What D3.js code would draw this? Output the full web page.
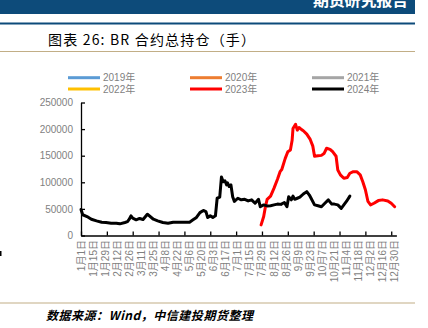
<!DOCTYPE html>
<html><head><meta charset="utf-8">
<script src="https://cdn.jsdelivr.net/npm/d3@7"></script>
<style>
html,body{margin:0;padding:0;background:#fff;}
svg{display:block;}
</style></head>
<body>
<svg id="c" width="428" height="328"></svg>
<script>
// ---- data ----
const legendYears = ["2019年","2020年","2021年","2022年","2023年","2024年"];
const legendColors = ["#5B9BD5","#ED7D31","#A5A5A5","#FFC000","#FF0000","#000000"];

const dates2019 = [], values2019 = [];
const dates2020 = [], values2020 = [];
const dates2021 = [], values2021 = [];
const dates2022 = [], values2022 = [];

const dates2023 = ["07-28","07-31","08-02","08-04","08-08","08-12","08-16","08-19","08-21","08-25","08-28","08-31","09-02","09-03","09-06","09-08","09-10","09-13","09-15","09-19","09-23","09-26","09-28","10-02","10-06","10-09","10-12","10-16","10-19","10-23","10-25","10-28","11-01","11-05","11-08","11-12","11-16","11-20","11-23","11-26","11-29","12-02","12-06","12-11","12-16","12-22","12-26","12-30"];
const values2023 = [20000,35600,54000,68000,74000,89000,105600,120000,124000,145000,157500,160600,179000,201000,209000,198000,203000,199000,197000,190600,180600,168000,149000,150000,150600,154000,164000,162000,157500,149000,123000,114000,107500,109000,117000,120000,120000,114000,101000,86000,64000,57500,60600,65600,67000,65000,60600,54000];

const dates2024 = ["01-01","01-03","01-08","01-13","01-19","01-25","01-30","02-05","02-11","02-15","02-21","02-24","02-26","02-28","03-01","03-05","03-09","03-13","03-18","03-25","03-30","04-05","04-11","04-17","04-27","05-06","05-10","05-14","05-18","05-22","05-25","05-27","05-30","06-02","06-05","06-07","06-10","06-12","06-14","06-16","06-18","06-19","06-21","06-23","06-25","06-27","07-01","07-05","07-09","07-13","07-17","07-21","07-25","07-27","07-31","08-04","08-08","08-12","08-16","08-20","08-24","08-27","08-29","09-01","09-03","09-05","09-08","09-11","09-15","09-19","09-22","09-24","09-28","10-02","10-06","10-10","10-14","10-18","10-21","10-25","10-29","11-01","11-04","11-08"];
const values2024 = [49000,39000,35600,30600,27500,25000,24400,23000,23000,21900,24400,26000,30600,37000,32500,29400,32000,30000,40000,30600,27500,24400,23000,25000,25000,25000,29400,34000,43000,47000,45000,33750,36900,34000,37000,70000,72000,110000,101000,103000,95000,99000,92000,95000,73000,64000,70000,67000,68000,65000,67000,60600,68000,54000,57500,55600,56000,57500,59000,58500,62000,54000,73000,67000,74000,68000,70000,72000,78000,82500,76000,70000,57500,56000,54000,60600,67000,59000,59000,57500,51000,57500,64000,74000];

const yTicks = [0,50000,100000,150000,200000,250000];
const xLabels = ["1月1日","1月15日","1月29日","2月12日","2月26日","3月11日","3月25日","4月8日","4月22日","5月6日","5月20日","6月3日","6月17日","7月1日","7月15日","7月29日","8月12日","8月26日","9月9日","9月23日","10月7日","10月21日","11月4日","11月18日","12月2日","12月16日","12月30日"];

// ---- helpers ----
const base = new Date(2024,0,1);
function dayIdx(md){ const [m,d]=md.split("-").map(Number); return d3.timeDay.count(base, new Date(2024,m-1,d)); }
function labelIdx(l){ const m=l.match(/(\d+)月(\d+)日/); return d3.timeDay.count(base, new Date(2024,+m[1]-1,+m[2])); }

const svg = d3.select("#c");
const grayTxt = "#7f7f7f";
const latinFont = "'Liberation Sans', Arial, 'Noto Sans CJK SC', sans-serif";

// header
svg.append("rect").attr("x",0).attr("y",0).attr("width",415).attr("height",14).attr("fill","#0D4B7A");
svg.append("text").attr("x",313).attr("y",6).attr("fill","#fff")
  .attr("font-family","'Noto Sans CJK SC'").attr("font-size",16).attr("font-weight","bold")
  .attr("textLength",95).attr("lengthAdjust","spacing").text("期货研究报告");
svg.append("rect").attr("x",0).attr("y",22.5).attr("width",415).attr("height",2).attr("fill","#0D4B7A");
svg.append("rect").attr("x",0).attr("y",51).attr("width",415).attr("height",1).attr("fill","#C2AE86");
svg.append("text").attr("x",48).attr("y",44.5).attr("fill","#000")
  .attr("font-family","'Noto Sans CJK SC'").attr("font-size",14)
  .attr("textLength",207).attr("lengthAdjust","spacing").text("图表 26: BR 合约总持仓（手）");

// footer
svg.append("rect").attr("x",0).attr("y",302.5).attr("width",415).attr("height",1).attr("fill","#C2AE86");
svg.append("text").attr("x",46).attr("y",319.5).attr("fill","#000")
  .attr("font-family","'Noto Sans CJK SC'").attr("font-size",12).attr("font-style","italic").attr("font-weight","bold")
  .attr("textLength",207).attr("lengthAdjust","spacing").text("数据来源：Wind，中信建投期货整理");
svg.append("rect").attr("x",0).attr("y",251).attr("width",1.5).attr("height",5).attr("fill","#000");

// scales
const x = d3.scaleLinear().domain([0,366]).range([81,396.4]);
const y = d3.scaleLinear().domain([0,250000]).range([235.5,102.5]);

// y axis
const gy = svg.append("g").attr("transform","translate(81,0)")
  .call(d3.axisLeft(y).tickValues(yTicks).tickSizeInner(-4).tickSizeOuter(0).tickPadding(8).tickFormat(d3.format("d")));
gy.selectAll("path,line").attr("stroke","#000").attr("stroke-width",1.3);
gy.selectAll("text").attr("fill",grayTxt).attr("font-family",latinFont).attr("font-size",10);

// x axis
const gx = svg.append("g").attr("transform","translate(0,235.5)")
  .call(d3.axisBottom(x).tickValues(d3.range(0,361,30)).tickSizeInner(-4).tickSizeOuter(0).tickFormat(""));
gx.selectAll("path,line").attr("stroke","#000").attr("stroke-width",1.3);

svg.append("g").selectAll("text").data(xLabels).join("text")
  .attr("transform", d => `translate(${x(labelIdx(d))},240) rotate(-90)`)
  .attr("text-anchor","end").attr("dy","0.35em")
  .attr("fill",grayTxt).attr("font-family",latinFont).attr("font-size",10)
  .text(d=>d);

// lines
const line = d3.line().x(d=>x(d[0])).y(d=>y(d[1]));
const seriesList = [
  [dates2019,values2019],[dates2020,values2020],[dates2021,values2021],
  [dates2022,values2022],[dates2023,values2023],[dates2024,values2024]];
seriesList.forEach((s,i)=>{
  const pts = s[0].map((d,j)=>[dayIdx(d), s[1][j]]);
  if(!pts.length) return;
  svg.append("path").attr("d",line(pts)).attr("fill","none")
    .attr("stroke",legendColors[i]).attr("stroke-width",3)
    .attr("stroke-linejoin","round").attr("stroke-linecap","round");
});

// legend
const legX = [68,190,312], legY = [77.7,89];
legendYears.forEach((t,i)=>{
  const lx = legX[i%3], ly = legY[Math.floor(i/3)];
  svg.append("line").attr("x1",lx).attr("x2",lx+32).attr("y1",ly).attr("y2",ly)
    .attr("stroke",legendColors[i]).attr("stroke-width",3);
  svg.append("text").attr("x",lx+35).attr("y",ly).attr("dy","0.35em")
    .attr("fill",grayTxt).attr("font-family",latinFont).attr("font-size",10).text(t);
});
</script>
</body></html>
